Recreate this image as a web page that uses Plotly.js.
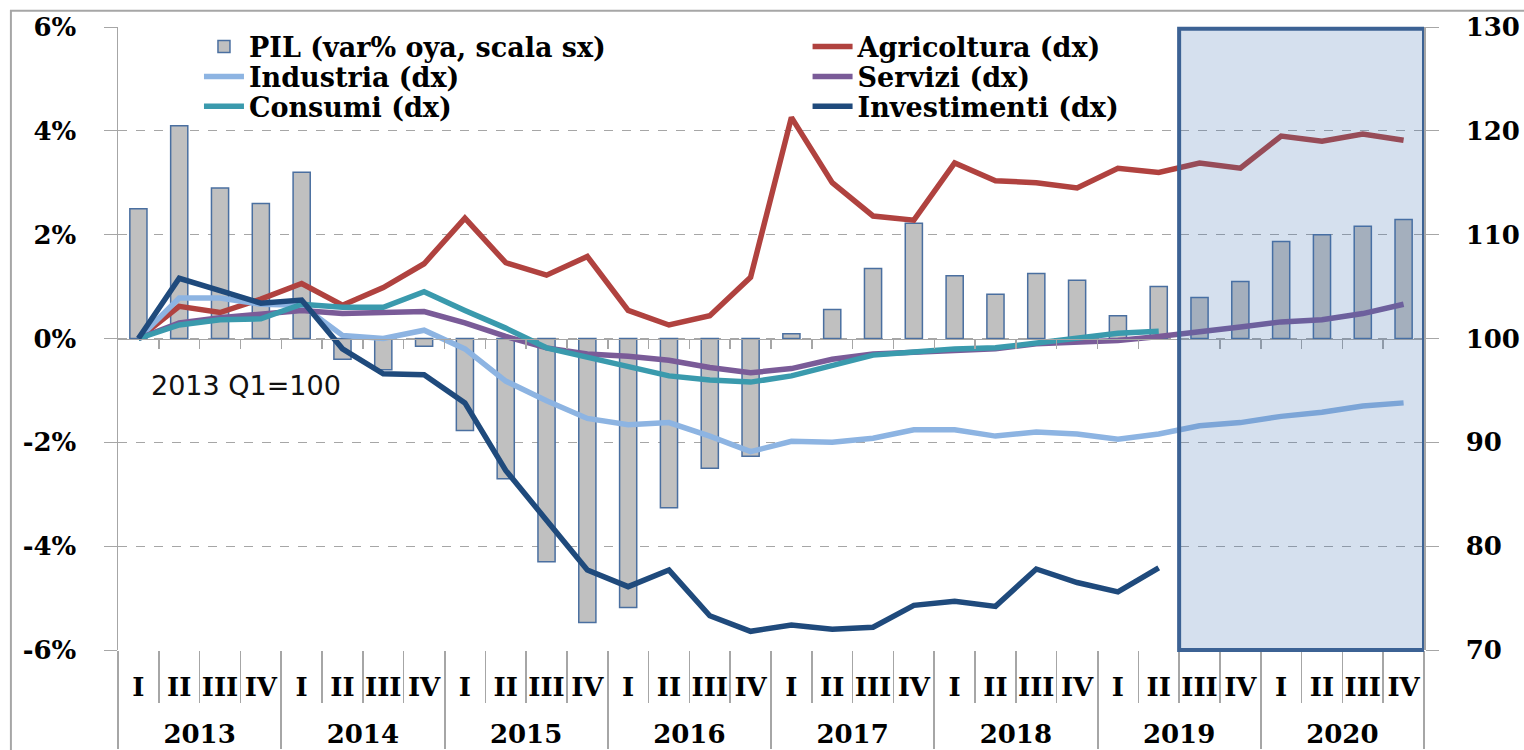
<!DOCTYPE html>
<html>
<head>
<meta charset="utf-8">
<script src="https://cdn.plot.ly/plotly-3.0.1.min.js"></script>
<style>
  body { margin: 0; background: #fff; }
  #chart { width: 1524px; height: 750px; }
</style>
</head>
<body>
<div id="chart"></div>
<script>
// categorie: anni e trimestri
var anni = ['2013', '2014', '2015', '2016', '2017', '2018', '2019', '2020'];
var trimestri = ['I', 'II', 'III', 'IV'];

// PIL var% oya (scala sx)
var pil = [2.5, 4.1, 2.9, 2.6, 3.2, -0.4, -0.6, -0.15, -1.77, -2.7, -4.3, -5.47,
  -5.18, -3.26, -2.5, -2.27, 0.09, 0.56, 1.35, 2.22, 1.21, 0.85, 1.25, 1.12,
  0.44, 1.0, 0.79, 1.1, 1.87, 2.0, 2.16, 2.29];

// indici 2013 Q1=100 (scala dx)
var agricoltura = [100, 103.1, 102.5, 103.8, 105.3, 103.2, 104.9, 107.2, 111.6, 107.3,
  106.1, 107.9, 102.7, 101.3, 102.2, 105.9, 121.3, 115.0, 111.8, 111.4, 116.9, 115.2,
  115.0, 114.5, 116.4, 116.0, 116.9, 116.4, 119.5, 119.0, 119.7, 119.1];
var industria = [100, 103.9, 103.9, 103.3, 103.2, 100.3, 100.0, 100.8, 99.0, 95.9,
  94.0, 92.3, 91.7, 91.9, 90.6, 89.1, 90.1, 90.0, 90.4, 91.2, 91.2, 90.6,
  91.0, 90.8, 90.3, 90.8, 91.6, 91.9, 92.5, 92.9, 93.5, 93.8];
var servizi = [100, 101.5, 102.0, 102.4, 102.7, 102.4, 102.5, 102.6, 101.5, 100.2,
  99.1, 98.5, 98.3, 97.9, 97.2, 96.7, 97.1, 98.0, 98.5, 98.7, 98.8, 99.0,
  99.5, 99.7, 99.8, 100.2, 100.6, 101.1, 101.6, 101.8, 102.4, 103.3];
var consumi = [100, 101.3, 101.8, 101.9, 103.3, 103.0, 103.0, 104.5, 102.7, 101.0,
  99.1, 98.2, 97.2, 96.4, 96.0, 95.8, 96.4, 97.4, 98.4, 98.7, 99.0, 99.1,
  99.6, 100.1, 100.5, 100.7];
var investimenti = [100, 105.8, 104.6, 103.4, 103.7, 99.0, 96.6, 96.5, 93.8, 87.3,
  82.5, 77.7, 76.1, 77.7, 73.3, 71.8, 72.4, 72.0, 72.2, 74.3, 74.7, 74.2,
  77.8, 76.5, 75.6, 77.9];

var xAnni = [], xTrim = [];
anni.forEach(function (a) {
  trimestri.forEach(function (t) { xAnni.push(a); xTrim.push(t); });
});
function xcat(n) { return [xAnni.slice(0, n), xTrim.slice(0, n)]; }

var serif = 'DejaVu Serif';
var grigio = '#a6a6a6';

function linea(nome, y, colore, leg) {
  return {
    x: xcat(y.length), y: y, name: nome, type: 'scatter', mode: 'lines',
    yaxis: 'y2', legend: leg, hoverinfo: 'skip',
    line: { color: colore, width: 5.5 }
  };
}

var data = [
  {
    x: xcat(pil.length), y: pil, name: 'PIL (var% oya, scala sx)', type: 'bar',
    width: 0.42, legend: 'legend', hoverinfo: 'skip',
    marker: { color: '#c0c0c0', line: { color: '#4a6fa0', width: 1.5 } }
  },
  linea('Agricoltura (dx)', agricoltura, '#b0423f', 'legend2'),
  linea('Industria (dx)', industria, '#8db4e2', 'legend3'),
  linea('Servizi (dx)', servizi, '#7a5b98', 'legend4'),
  linea('Consumi (dx)', consumi, '#3a9aad', 'legend5'),
  linea('Investimenti (dx)', investimenti, '#1f4a7c', 'legend6'),
  // asse ausiliario per le tacche sulla linea dello zero
  { x: [0], y: [null], xaxis: 'x2', type: 'scatter', mode: 'none', showlegend: false, hoverinfo: 'skip' }
];

var bordiTrim = xTrim.slice(1).map(function (t, i) { return i + 0.5; });

var legendaFont = { family: serif, size: 27, color: '#000', weight: 'bold' };
function legenda(x, y) {
  return {
    x: x, y: y, xanchor: 'left', yanchor: 'middle',
    bgcolor: 'rgba(0,0,0,0)', font: legendaFont, tracegroupgap: 0, itemwidth: 40
  };
}
var tickFont = { family: serif, size: 26, color: '#000', weight: 'bold' };

var layout = {
  width: 1524, height: 750,
  margin: { l: 118, r: 100, t: 27, b: 100 },
  paper_bgcolor: '#fff', plot_bgcolor: 'rgba(0,0,0,0)',
  font: { family: serif, size: 26, color: '#000', weight: 'bold' },
  showlegend: true,
  legend: legenda(0.062, 0.968),
  legend2: legenda(0.528, 0.968),
  legend3: legenda(0.062, 0.92),
  legend4: legenda(0.528, 0.92),
  legend5: legenda(0.062, 0.872),
  legend6: legenda(0.528, 0.872),
  xaxis: {
    type: 'multicategory', range: [-0.5, 31.5], tickangle: 0,
    tickfont: tickFont, ticklabelstandoff: 19, ticksuffix: '<br> ',
    ticks: 'outside', ticklen: 52, tickcolor: grigio, tickwidth: 1.5,
    tickson: 'boundaries',
    showdividers: true, dividercolor: grigio, dividerwidth: 2,
    showline: false, showgrid: false, zeroline: false
  },
  xaxis2: {
    type: 'linear', overlaying: 'x', anchor: 'free', position: 0.5, side: 'bottom',
    range: [-0.5, 31.5], tickmode: 'array', tickvals: bordiTrim,
    showticklabels: false, ticks: 'outside', ticklen: 9, tickcolor: grigio, tickwidth: 1.5,
    showline: true, linecolor: grigio, linewidth: 1.5, showgrid: false, zeroline: false
  },
  yaxis: {
    range: [-6, 6],
    tickvals: [-6, -4, -2, 0, 2, 4, 6],
    ticktext: ['-6%', '-4%', '-2%', '0%', '2%', '4%', '6%'],
    tickfont: tickFont,
    ticks: 'outside', ticklen: 13, tickcolor: grigio, ticklabelstandoff: 22,
    showline: true, linecolor: grigio, linewidth: 1.5,
    showgrid: true, gridcolor: grigio, griddash: 'dash', gridwidth: 1,
    zeroline: false
  },
  yaxis2: {
    overlaying: 'y', side: 'right', range: [70, 130], dtick: 10,
    tickfont: tickFont,
    ticks: 'outside', ticklen: 13, tickcolor: grigio, ticklabelstandoff: 22,
    showline: true, linecolor: grigio, linewidth: 1.5,
    showgrid: false, zeroline: false
  },
  shapes: [
    {
      type: 'rect', xref: 'x2', yref: 'paper', x0: 25.5, x1: 31.5, y0: 0, y1: 0.997,
      layer: 'above', fillcolor: 'rgba(64,114,177,0.22)',
      line: { color: '#3c6294', width: 4 }
    },
    {
      type: 'rect', xref: 'paper', yref: 'paper', x0: -0.082, x1: 1.12, y0: -0.2, y1: 1.026,
      layer: 'below', fillcolor: 'rgba(0,0,0,0)',
      line: { color: grigio, width: 2 }
    }
  ],
  annotations: [
    {
      text: '2013 Q1=100', xref: 'paper', yref: 'paper', x: 0.024, y: 0.425,
      xanchor: 'left', yanchor: 'middle', showarrow: false,
      font: { family: 'DejaVu Sans', size: 27, color: '#111', weight: 'normal' }
    }
  ]
};

Plotly.newPlot('chart', data, layout, { staticPlot: true });
</script>
</body>
</html>
